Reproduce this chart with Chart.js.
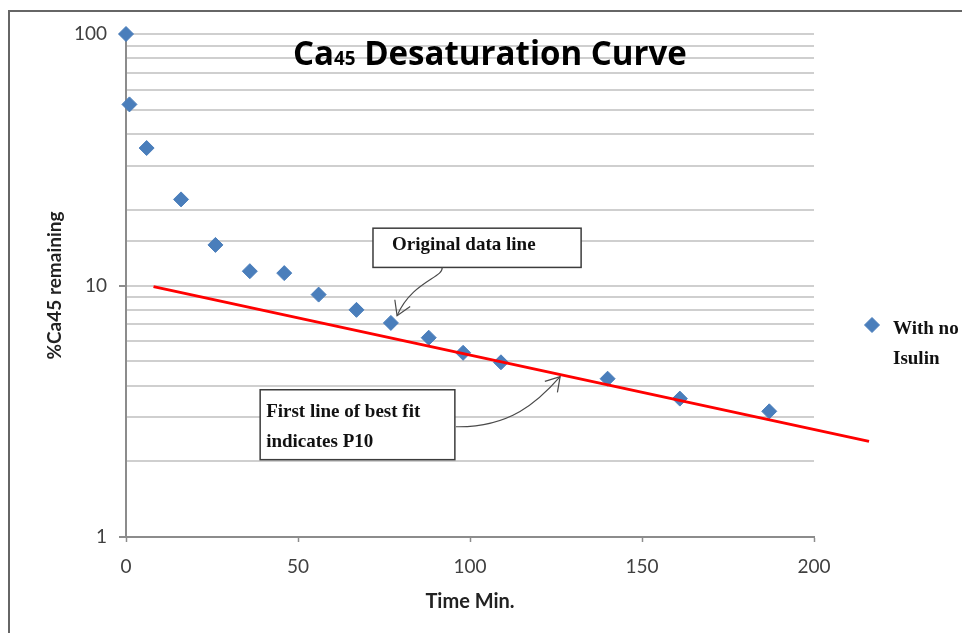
<!DOCTYPE html>
<html>
<head>
<meta charset="utf-8">
<title>Ca45 Desaturation Curve</title>
<script src="https://cdn.jsdelivr.net/npm/chart.js@4.4.1/dist/chart.umd.min.js"></script>
<style>
  html, body { margin: 0; padding: 0; background: #fff; overflow: hidden; }
  #wrap { position: relative; width: 962px; height: 633px; }
</style>
</head>
<body>
<div id="wrap"><canvas id="chart"></canvas></div>
<script>
// values
const timeMin = [0, 1, 6, 16, 26, 36, 46, 56, 67, 77, 88, 98, 109, 140, 161, 187];
const caRemaining = [100, 52.5, 35.2, 22.0, 14.5, 11.4, 11.2, 9.2, 8.0, 7.1, 6.2, 5.4, 4.95, 4.26, 3.55, 3.16];
const fitTime = [8, 216];
const fitRemaining = [9.9, 2.4];
const xTickValues = [0, 50, 100, 150, 200];
const yTickValues = [1, 10, 100];
const seriesLabel = ['With no', 'Isulin'];
const titleParts = ['Ca', '45', ' Desaturation Curve'];
const noteOriginal = ['Original data line'];
const noteFit = ['First line of best fit', 'indicates P10'];

const tickFont = "'Lato', 'Open Sans', sans-serif";
const titleFont = "'Open Sans', 'Lato', sans-serif";
const noteFont = "'Liberation Serif', 'DejaVu Serif', serif";
const axisGray = '#8c8c8c';
const gridGray = '#cfcfcf';

// callouts: box corners, arrow bezier points in data units; text offsets in px
const callouts = [
  {
    lines: noteOriginal,
    box: [[71.8, 16.9], [132.3, 11.8]],
    textAt: [19, 17], lineGap: 30,
    arrow: [[91.9, 11.8], [92.4, 10.76], [83.1, 10.37], [78.8, 7.59]]
  },
  {
    lines: noteFit,
    box: [[39.0, 3.85], [95.6, 2.03]],
    textAt: [6, 22], lineGap: 30,
    arrow: [[95.9, 2.744], [111.6, 2.719], [119.8, 3.45], [126.2, 4.34]]
  }
];

function arrowHead(ctx, from, tip, len, spread) {
  const a = Math.atan2(from.y - tip.y, from.x - tip.x);
  ctx.beginPath();
  ctx.moveTo(tip.x + Math.cos(a - spread) * len, tip.y + Math.sin(a - spread) * len);
  ctx.lineTo(tip.x, tip.y);
  ctx.lineTo(tip.x + Math.cos(a + spread) * len, tip.y + Math.sin(a + spread) * len);
  ctx.stroke();
}

const decorPlugin = {
  id: 'decor',
  beforeDraw(chart) {
    const ctx = chart.ctx;
    ctx.save();
    ctx.strokeStyle = '#666';
    ctx.lineWidth = 2;
    ctx.beginPath();
    ctx.moveTo(9, chart.height);
    ctx.lineTo(9, 11);
    ctx.lineTo(chart.width, 11);
    ctx.stroke();
    ctx.restore();
  },
  afterDatasetsDraw(chart) {
    const ctx = chart.ctx;
    const xs = chart.scales.x, ys = chart.scales.y;
    const pt = p => ({ x: xs.getPixelForValue(p[0]), y: ys.getPixelForValue(p[1]) });
    ctx.save();
    callouts.forEach(c => {
      const a = pt(c.box[0]), b = pt(c.box[1]);
      ctx.fillStyle = '#fff';
      ctx.fillRect(a.x, a.y, b.x - a.x, b.y - a.y);
      ctx.strokeStyle = '#3c3c3c';
      ctx.lineWidth = 1.5;
      ctx.strokeRect(a.x, a.y, b.x - a.x, b.y - a.y);
      ctx.fillStyle = '#111';
      ctx.font = 'bold 19px ' + noteFont;
      ctx.textBaseline = 'middle';
      ctx.textAlign = 'left';
      c.lines.forEach((t, i) => ctx.fillText(t, a.x + c.textAt[0], a.y + c.textAt[1] + i * c.lineGap));

      const [p0, p1, p2, p3] = c.arrow.map(pt);
      ctx.strokeStyle = '#4a4a4a';
      ctx.lineWidth = 1.2;
      ctx.beginPath();
      ctx.moveTo(p0.x, p0.y);
      ctx.bezierCurveTo(p1.x, p1.y, p2.x, p2.y, p3.x, p3.y);
      ctx.stroke();
      arrowHead(ctx, p2, p3, 16, 0.55);
    });
    ctx.restore();
  },
  afterDraw(chart) {
    const ctx = chart.ctx;
    const area = chart.chartArea;
    ctx.save();
    // title with subscript, fitted to the width it has in the picture
    const measure = (size) => {
      ctx.font = 'bold ' + size + 'px ' + titleFont;
      const a = ctx.measureText(titleParts[0]).width + ctx.measureText(titleParts[2]).width;
      ctx.font = 'bold ' + (size * 0.57) + 'px ' + titleFont;
      return a + ctx.measureText(titleParts[1]).width;
    };
    const big = 100 * 394 / measure(100), small = big * 0.57;
    const widths = [];
    ctx.font = 'bold ' + big + 'px ' + titleFont;
    widths[0] = ctx.measureText(titleParts[0]).width;
    widths[2] = ctx.measureText(titleParts[2]).width;
    ctx.font = 'bold ' + small + 'px ' + titleFont;
    widths[1] = ctx.measureText(titleParts[1]).width;
    let x = 293;
    const base = area.top + 31;
    ctx.fillStyle = '#000';
    ctx.textBaseline = 'alphabetic';
    ctx.textAlign = 'left';
    titleParts.forEach((t, i) => {
      ctx.font = 'bold ' + (i === 1 ? small : big) + 'px ' + titleFont;
      ctx.fillText(t, x, base);
      x += widths[i];
    });

    // legend
    const ds = chart.data.datasets[1];
    const lx = area.right + 58, ly = area.top + 291;
    ctx.fillStyle = ds.backgroundColor;
    ctx.strokeStyle = ds.borderColor;
    ctx.lineWidth = 1;
    Chart.helpers.drawPoint(ctx, { pointStyle: 'rectRot', radius: 7.5, borderWidth: 1 }, lx, ly);
    ctx.fillStyle = '#111';
    ctx.font = 'bold 19px ' + noteFont;
    ctx.textBaseline = 'middle';
    seriesLabel.forEach((t, i) => ctx.fillText(t, lx + 21, ly + 4 + i * 30));
    ctx.restore();
  }
};

new Chart(document.getElementById('chart'), {
  type: 'scatter',
  data: {
    datasets: [
      {
        label: 'First line of best fit',
        data: fitTime.map((t, i) => ({ x: t, y: fitRemaining[i] })),
        showLine: true,
        borderColor: '#ff0000',
        borderWidth: 3,
        pointRadius: 0,
        clip: false,
        order: 0
      },
      {
        label: seriesLabel.join(' '),
        data: timeMin.map((t, i) => ({ x: t, y: caRemaining[i] })),
        pointStyle: 'rectRot',
        pointRadius: 7.5,
        pointHoverRadius: 7.5,
        backgroundColor: '#4a7ebb',
        borderColor: '#4a7ebb',
        borderWidth: 1,
        clip: false,
        order: 1
      }
    ]
  },
  options: {
    responsive: true,
    maintainAspectRatio: false,
    animation: false,
    layout: { padding: { left: 0, right: 148, top: 34, bottom: 0 } },
    plugins: {
      legend: { display: false },
      title: { display: false },
      tooltip: { enabled: false }
    },
    scales: {
      x: {
        type: 'linear',
        min: 0,
        max: 200,
        afterBuildTicks: s => { s.ticks = xTickValues.map(v => ({ value: v })); },
        grid: { drawOnChartArea: false, tickLength: 5, tickColor: axisGray, tickWidth: 1.5 },
        border: { color: axisGray, width: 2 },
        ticks: { color: '#404040', font: { family: tickFont, size: 19 }, padding: 13 },
        title: {
          display: true,
          text: 'Time Min.',
          color: '#222',
          font: { family: tickFont, size: 20, weight: 'bold' },
          padding: { top: 0, bottom: 19 }
        },
        afterFit: s => { s.height = 96; }
      },
      y: {
        type: 'logarithmic',
        min: 1,
        max: 100,
        grid: {
          color: gridGray,
          lineWidth: 2,
          tickLength: 7,
          tickColor: c => (c.tick && yTickValues.includes(c.tick.value)) ? axisGray : 'rgba(0,0,0,0)'
        },
        border: { color: axisGray, width: 2 },
        ticks: {
          color: '#404040',
          font: { family: tickFont, size: 19 },
          padding: 12,
          autoSkip: false,
          callback: v => yTickValues.includes(v) ? String(v) : ''
        },
        title: {
          display: true,
          text: '%Ca45 remaining',
          color: '#222',
          font: { family: tickFont, size: 19, weight: 'bold' },
          padding: { top: 43, bottom: 0 }
        },
        afterFit: s => { s.width = 126; }
      }
    }
  },
  plugins: [decorPlugin]
});
</script>
</body>
</html>
